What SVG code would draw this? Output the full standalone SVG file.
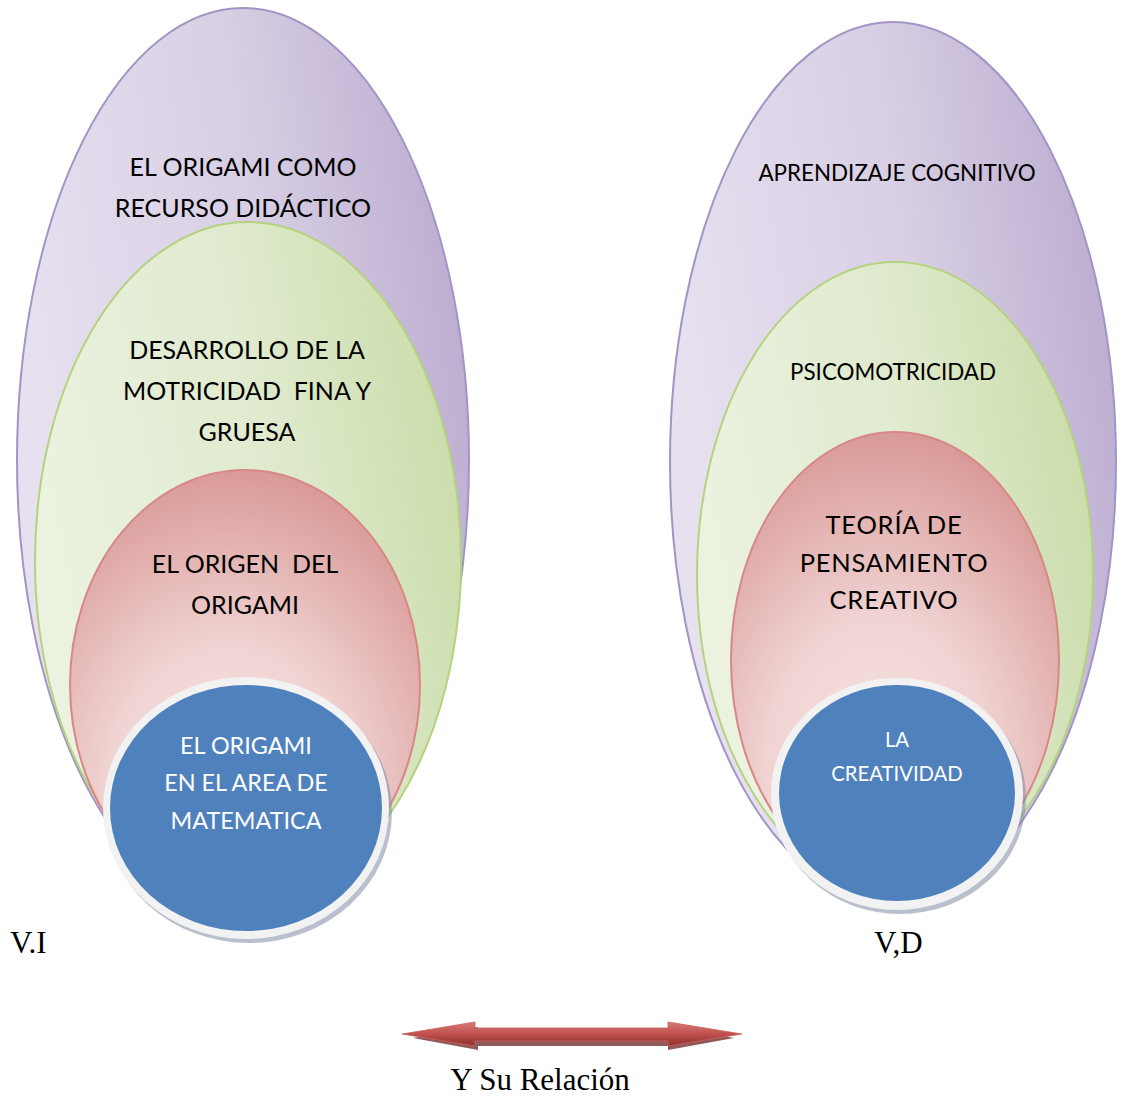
<svg xmlns="http://www.w3.org/2000/svg" width="1126" height="1096" viewBox="0 0 1126 1096">
<style>
.t{font-family:Lato,"Liberation Sans",sans-serif;fill:#000;text-anchor:middle}
.w{font-family:Lato,"Liberation Sans",sans-serif;fill:#fff;text-anchor:middle}
.s{font-family:"Liberation Serif",serif;fill:#000}
.pur{fill:url(#gP);stroke:#a294c6;stroke-width:2}
.grn{fill:url(#gG);stroke:#b5d27f;stroke-width:2}
.red{fill:url(#gR);stroke:#d78886;stroke-width:2}
.ring{fill:#f2f2f2}
.blu{fill:#4f81bd}
.sh{fill:#7f8aa3;opacity:0.55}
</style>
<defs>
<linearGradient id="gP" x1="0" y1="0.3" x2="1" y2="0">
<stop offset="0" stop-color="#e6e0ef"/><stop offset="0.5" stop-color="#d8cfe4"/><stop offset="1" stop-color="#b6a5cc"/>
</linearGradient>
<linearGradient id="gG" x1="0" y1="0.3" x2="1" y2="0">
<stop offset="0" stop-color="#ebf2e0"/><stop offset="0.5" stop-color="#dfeacd"/><stop offset="1" stop-color="#c6daa3"/>
</linearGradient>
<radialGradient id="gR" cx="0.45" cy="0.75" r="0.75">
<stop offset="0" stop-color="#f5e4e3"/><stop offset="0.45" stop-color="#f0d4d3"/><stop offset="1" stop-color="#d99a98"/>
</radialGradient>
<linearGradient id="gA" x1="0" y1="0" x2="0" y2="1">
<stop offset="0" stop-color="#d77b78"/><stop offset="0.5" stop-color="#c0504d"/><stop offset="1" stop-color="#8c2f2c"/>
</linearGradient>
</defs>

<g id="vi-recurso"><ellipse class="pur" cx="243" cy="460" rx="226" ry="452"/>
<text class="t" font-size="25" x="243" y="176">EL ORIGAMI COMO</text>
<text class="t" font-size="25" x="243" y="217">RECURSO DIDÁCTICO</text></g>

<g id="vi-motricidad"><ellipse class="grn" cx="248" cy="561" rx="213" ry="339"/>
<text class="t" font-size="25" x="247" y="359">DESARROLLO DE LA</text>
<text class="t" font-size="25" x="247" y="400" xml:space="preserve">MOTRICIDAD  FINA Y</text>
<text class="t" font-size="25" x="247" y="441">GRUESA</text></g>

<g id="vi-origen"><ellipse class="red" cx="245" cy="685" rx="175" ry="215"/>
<text class="t" font-size="25" x="245" y="573" xml:space="preserve">EL ORIGEN  DEL</text>
<text class="t" font-size="25" x="245" y="614">ORIGAMI</text></g>

<g id="vi-matematica">
<ellipse class="sh" cx="249" cy="812" rx="143" ry="131"/>
<ellipse class="ring" cx="246" cy="808" rx="143" ry="131"/>
<ellipse class="blu" cx="246" cy="808" rx="136" ry="123"/>
<text class="w" font-size="23.4" x="246" y="754">EL ORIGAMI</text>
<text class="w" font-size="23.4" x="246" y="791">EN EL AREA DE</text>
<text class="w" font-size="23.4" x="246" y="829">MATEMATICA</text></g>

<g id="vd-aprendizaje"><ellipse class="pur" cx="893" cy="462" rx="223" ry="440"/>
<text class="t" font-size="22.4" x="897" y="181">APRENDIZAJE COGNITIVO</text></g>

<g id="vd-psicomotricidad"><ellipse class="grn" cx="895" cy="575" rx="198" ry="313"/>
<text class="t" font-size="22.4" x="893" y="380">PSICOMOTRICIDAD</text></g>

<g id="vd-teoria"><ellipse class="red" cx="895" cy="660" rx="164" ry="228"/>
<text class="t" font-size="25.5" letter-spacing="0.8" x="894" y="534">TEORÍA DE</text>
<text class="t" font-size="25.5" letter-spacing="0.8" x="894" y="572">PENSAMIENTO</text>
<text class="t" font-size="25.5" letter-spacing="0.8" x="894" y="609">CREATIVO</text></g>

<g id="vd-creatividad">
<ellipse class="sh" cx="900" cy="798" rx="126" ry="116"/>
<ellipse class="ring" cx="897" cy="794" rx="126" ry="116"/>
<ellipse class="blu" cx="897" cy="793" rx="118" ry="108"/>
<text class="w" font-size="20.3" x="897" y="747">LA</text>
<text class="w" font-size="20.3" x="897" y="781">CREATIVIDAD</text></g>

<g id="labels">
<text class="s" font-size="31" x="10" y="953">V.I</text>
<text class="s" font-size="31" x="874" y="953">V,D</text>
<text class="s" font-size="31" x="540" y="1090" text-anchor="middle">Y Su Relación</text>
</g>

<g id="connectors">
<path d="M413,1038 L478,1027 L478,1032 L668,1032 L668,1027 L734,1038 L668,1050 L668,1046 L478,1046 L478,1050 Z" fill="#6b2321" opacity="0.75"/>
<path d="M402,1034 L475,1022 L475,1028 L668,1028 L668,1022 L742,1034 L668,1046 L668,1041 L475,1041 L475,1046 Z" fill="url(#gA)" stroke="#c9605d" stroke-width="0.8"/>
</g>
</svg>
